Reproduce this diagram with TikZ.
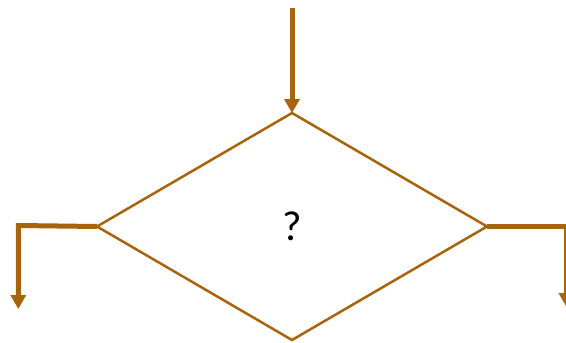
\documentclass[tikz,border=0pt]{standalone}
\usepackage{fontspec}
\setmainfont{Carlito}
\usetikzlibrary{shapes.geometric,arrows.meta}
\definecolor{flow}{RGB}{168,100,10}
\tikzset{
  decision/.style={diamond, draw=flow, line width=2.5pt, minimum width=390pt, minimum height=227pt, inner sep=0pt, outer sep=0pt, font=\fontsize{42}{48}\selectfont},
  flowarrow/.style={draw=flow, line width=5pt, line join=miter, -{Triangle[width=15pt,length=14pt]}}
}
\begin{document}
\begin{tikzpicture}[x=1pt,y=-1pt]
\useasboundingbox (0,0) rectangle (566,343);
\node[decision] (d) at (292,226.5) {?};
\coordinate (top) at (292,8);
\coordinate (lc) at (18.3,225.5);
\coordinate (le) at (18.3,309);
\coordinate (rc) at (566.5,226.5);
\coordinate (re) at (566.5,307);
\draw[flowarrow] (top) -- (d.north);
\draw[flowarrow] (d.west) -- (lc) -- (le);
\draw[flowarrow] (d.east) -- (rc) -- (re);
\end{tikzpicture}
\end{document}
